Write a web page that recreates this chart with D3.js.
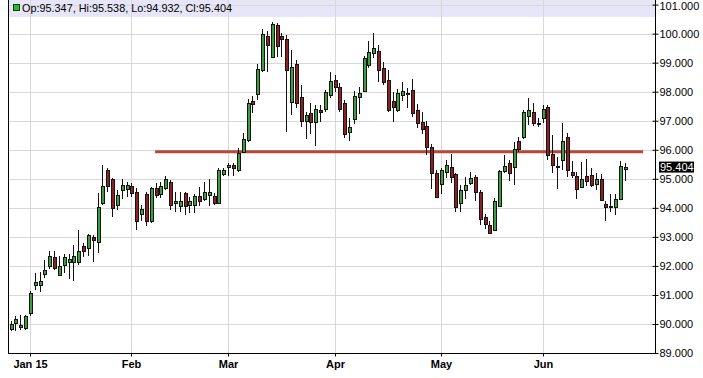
<!DOCTYPE html>
<html><head><meta charset="utf-8">
<script src="https://cdn.jsdelivr.net/npm/d3@7"></script>
<style>
html,body{margin:0;padding:0;background:#fff;}
svg{display:block;}
text{font-family:"Liberation Sans",Arial,sans-serif;}
</style></head><body>
<svg id="chart" width="703" height="378"></svg>
<script>
const dates = [
"2014-12-26","2014-12-29","2014-12-30","2014-12-31",
"2015-01-02","2015-01-05","2015-01-06","2015-01-07","2015-01-08","2015-01-09","2015-01-12","2015-01-13","2015-01-14","2015-01-15","2015-01-16","2015-01-19","2015-01-20","2015-01-21","2015-01-22","2015-01-23","2015-01-26","2015-01-27","2015-01-28","2015-01-29","2015-01-30",
"2015-02-02","2015-02-03","2015-02-04","2015-02-05","2015-02-06","2015-02-09","2015-02-10","2015-02-11","2015-02-12","2015-02-13","2015-02-16","2015-02-17","2015-02-18","2015-02-19","2015-02-20","2015-02-23","2015-02-24","2015-02-25","2015-02-26","2015-02-27",
"2015-03-02","2015-03-03","2015-03-04","2015-03-05","2015-03-06","2015-03-09","2015-03-10","2015-03-11","2015-03-12","2015-03-13","2015-03-16","2015-03-17","2015-03-18","2015-03-19","2015-03-20","2015-03-23","2015-03-24","2015-03-25","2015-03-26","2015-03-27","2015-03-30","2015-03-31",
"2015-04-01","2015-04-02","2015-04-03","2015-04-06","2015-04-07","2015-04-08","2015-04-09","2015-04-10","2015-04-13","2015-04-14","2015-04-15","2015-04-16","2015-04-17","2015-04-20","2015-04-21","2015-04-22","2015-04-23","2015-04-24","2015-04-27","2015-04-28","2015-04-29","2015-04-30",
"2015-05-01","2015-05-04","2015-05-05","2015-05-06","2015-05-07","2015-05-08","2015-05-11","2015-05-12","2015-05-13","2015-05-14","2015-05-15","2015-05-18","2015-05-19","2015-05-20","2015-05-21","2015-05-22","2015-05-25","2015-05-26","2015-05-27","2015-05-28","2015-05-29",
"2015-06-01","2015-06-02","2015-06-03","2015-06-04","2015-06-05","2015-06-08","2015-06-09","2015-06-10","2015-06-11","2015-06-12","2015-06-15","2015-06-16","2015-06-17","2015-06-18","2015-06-19","2015-06-22","2015-06-23","2015-06-24"];

const open = [89.83,90.04,89.90,89.86,
90.38,91.33,91.33,91.73,91.98,92.30,91.67,92.02,92.12,92.12,92.15,92.67,92.63,93.01,92.84,94.18,95.31,94.99,94.10,94.60,94.64,
94.76,94.56,93.78,94.47,93.55,94.68,94.47,94.68,94.90,94.16,94.08,94.50,94.10,94.10,94.41,94.30,94.45,94.41,94.18,95.17,
95.42,95.48,95.31,95.94,96.34,97.69,97.91,98.74,99.91,99.20,100.29,99.91,99.83,97.66,98.97,97.83,96.99,97.28,96.94,97.37,97.42,97.89,
98.40,98.17,97.60,96.62,97.06,97.83,98.02,98.92,99.32,99.40,98.80,98.40,97.68,97.37,97.89,97.95,98.06,97.37,96.94,96.82,96.11,95.19,
94.83,95.25,95.40,95.17,94.16,94.62,94.85,95.05,94.56,93.70,93.42,93.24,94.07,95.28,95.56,95.40,96.31,96.43,97.16,97.29,96.91,
97.08,97.48,95.86,95.45,95.65,96.45,95.25,95.10,94.71,95.10,95.13,94.83,94.99,94.14,94.02,94.04,94.30,95.347];

const high = [90.09,90.26,90.30,90.32,
91.12,91.75,91.78,92.21,92.52,92.50,92.33,92.42,92.42,92.73,93.24,92.79,93.11,93.07,94.50,95.48,95.36,95.02,94.62,94.99,94.90,
94.85,94.68,94.10,94.56,94.73,94.87,94.90,95.10,94.96,94.56,94.53,94.53,94.39,94.47,94.73,94.90,94.99,94.50,95.36,95.36,
95.56,95.56,96.05,96.57,97.74,97.85,98.94,100.17,100.09,100.41,100.35,100.03,99.97,99.43,99.09,98.23,97.31,97.60,97.54,97.54,98.06,98.67,
98.57,98.29,97.71,97.08,98.03,98.17,99.24,99.74,100.01,99.61,99.03,98.74,98.00,98.11,98.34,98.14,98.44,97.56,97.29,96.99,96.20,95.31,
95.36,95.65,95.86,95.21,94.79,95.05,95.25,95.13,94.62,93.79,93.53,94.33,95.31,95.82,95.65,96.28,96.45,97.37,97.77,97.62,97.08,
97.54,97.54,96.51,95.76,96.91,96.57,95.63,95.25,95.59,95.67,95.36,95.19,95.17,94.22,94.48,94.48,95.63,95.538];

const low = [89.75,89.75,89.80,89.80,
90.29,91.18,91.09,91.60,91.89,91.87,91.64,91.75,91.55,91.47,92.04,92.29,92.35,92.12,92.44,94.10,94.56,93.67,93.93,94.30,94.39,
94.39,93.22,93.55,93.38,93.49,94.33,94.35,94.62,93.93,93.87,93.87,93.76,93.81,93.81,94.07,94.22,94.07,94.10,94.14,95.08,
95.08,95.08,95.25,95.88,96.28,97.28,97.71,98.67,98.67,99.15,99.20,99.20,96.60,97.20,97.45,96.80,96.37,96.53,96.14,96.97,97.31,97.79,
97.98,97.29,96.42,96.30,96.88,97.22,97.98,98.80,99.17,98.34,98.23,97.29,96.97,97.31,97.68,97.45,97.14,96.74,96.53,95.82,94.64,94.33,
94.48,95.02,94.87,93.84,93.87,94.30,94.79,94.22,93.42,93.27,93.11,93.22,94.04,95.21,94.94,94.79,95.94,96.36,96.85,96.82,96.77,
96.91,95.65,95.19,94.64,95.31,95.05,95.02,94.30,94.68,94.76,94.71,94.62,94.22,93.53,93.87,93.76,94.27,94.932];

const close = [90.01,90.17,89.98,90.26,
91.07,91.44,91.49,91.87,92.33,91.93,91.98,92.30,92.23,92.35,92.53,92.50,93.05,92.88,94.04,94.76,94.76,94.00,94.45,94.79,94.79,
94.51,93.56,93.95,93.53,94.68,94.45,94.76,94.99,94.10,94.22,94.22,94.07,94.22,94.41,94.22,94.53,94.56,94.18,95.31,95.31,
95.48,95.36,95.88,96.36,97.60,97.58,98.77,99.99,99.60,100.33,99.58,99.80,98.74,98.86,97.60,96.99,97.19,96.97,97.42,97.29,97.98,98.37,
98.17,97.40,96.53,96.77,97.86,97.95,99.17,99.38,99.49,98.75,98.34,97.37,97.48,97.95,98.02,97.95,97.26,96.91,96.72,96.08,95.19,94.37,
95.31,95.48,95.06,94.04,94.62,94.79,95.02,94.56,93.61,93.45,93.15,94.22,95.28,95.45,95.21,96.02,96.02,97.31,97.37,96.91,96.92,
97.39,95.82,95.48,95.40,96.31,95.31,95.13,94.64,94.99,94.94,94.79,94.99,94.26,94.02,94.07,94.30,95.45,95.404];

const yTicks = [89,90,91,92,93,94,95,96,97,98,99,100,101];
const monthLabels = ["Jan 15","Feb","Mar","Apr","May","Jun"];
const resistanceLevel = 95.93;
const resistanceStart = 29.9;   // in trading-day index units
const resistanceEnd = 130.8;

const L = 8, R = 655, T = 0, B = 353;
const svg = d3.select("#chart");

const x = d3.scaleLinear().domain([-0.52, 133.25]).range([L, R]);
const y = d3.scaleLinear().domain([89, 101]).range([353, 4.6]);

// header band
svg.append("rect").attr("x", L).attr("y", 0).attr("width", R - L).attr("height", 17).attr("fill", "#e6e6f8");

// gridlines
const parse = d3.timeParse("%Y-%m-%d");
const dts = dates.map(parse);
const monthIdx = [];
dts.forEach((d, i) => { if (i > 0 && d.getMonth() !== dts[i-1].getMonth()) monthIdx.push(i); });

svg.append("g").selectAll("line").data(yTicks.filter(t => t > 89)).join("line")
  .attr("x1", L).attr("x2", R)
  .attr("y1", d => Math.round(y(d)) + 0.5).attr("y2", d => Math.round(y(d)) + 0.5)
  .attr("stroke", "#d8d8d8").attr("stroke-width", 1);
svg.append("g").selectAll("line").data(monthIdx).join("line")
  .attr("x1", d => Math.round(x(d)) + 0.5).attr("x2", d => Math.round(x(d)) + 0.5)
  .attr("y1", T).attr("y2", B)
  .attr("stroke", "#d8d8d8").attr("stroke-width", 1);

// header text
const last = dates.length - 1;
svg.append("rect").attr("x", 13.5).attr("y", 4.5).attr("width", 6).attr("height", 6)
  .attr("fill", "#22c022").attr("stroke", "#1a3a1a");
svg.append("text").attr("x", 22).attr("y", 12)
  .attr("font-size", 11).attr("fill", "#000")
  .attr("textLength", 210).attr("lengthAdjust", "spacingAndGlyphs")
  .text(`Op:${open[last].toFixed(3)}, Hi:${high[last].toFixed(3)}, Lo:${low[last].toFixed(3)}, Cl:${close[last].toFixed(3)}`);

// resistance line with shadow
const defs = svg.append("defs");
defs.append("filter").attr("id", "blur").attr("x", "-5%").attr("y", "-300%").attr("width", "110%").attr("height", "700%")
  .append("feGaussianBlur").attr("stdDeviation", 1.8);
svg.append("line")
  .attr("x1", x(resistanceStart) + 3).attr("x2", x(resistanceEnd) + 2)
  .attr("y1", y(resistanceLevel) + 5).attr("y2", y(resistanceLevel) + 5)
  .attr("stroke", "#8a8a8a").attr("stroke-width", 5).attr("filter", "url(#blur)").attr("opacity", 0.9);
svg.append("line")
  .attr("x1", x(resistanceStart)).attr("x2", x(resistanceEnd))
  .attr("y1", y(resistanceLevel)).attr("y2", y(resistanceLevel))
  .attr("stroke", "#b54838").attr("stroke-width", 3);

// candles
const idx = d3.range(dates.length);
const g = svg.append("g").attr("shape-rendering", "crispEdges");
g.selectAll("line.wick").data(idx).join("line").attr("class", "wick")
  .attr("x1", i => Math.round(x(i)) + 0.5).attr("x2", i => Math.round(x(i)) + 0.5)
  .attr("y1", i => Math.round(y(high[i]))).attr("y2", i => Math.round(y(low[i])))
  .attr("stroke", "#111").attr("stroke-width", 1);
g.selectAll("rect.body").data(idx).join("rect").attr("class", "body")
  .attr("x", i => Math.round(x(i)) - 0.5)
  .attr("width", 3)
  .attr("y", i => Math.round(y(Math.max(open[i], close[i]))) + 0.5)
  .attr("height", i => Math.max(1, Math.round(y(Math.min(open[i], close[i]))) - Math.round(y(Math.max(open[i], close[i])))))
  .attr("fill", i => close[i] >= open[i] ? "#3e9e3e" : "#8e1f22")
  .attr("stroke", "#141414").attr("stroke-width", 1);

// frame
svg.append("line").attr("x1", L + 0.5).attr("x2", L + 0.5).attr("y1", 0).attr("y2", B + 1).attr("stroke", "#000");
svg.append("line").attr("x1", R + 0.5).attr("x2", R + 0.5).attr("y1", 0).attr("y2", B + 1).attr("stroke", "#000");

// right axis
const yAxis = d3.axisRight(y).tickValues(yTicks).tickFormat(d3.format(".3f")).tickSizeInner(3).tickSizeOuter(0).tickPadding(1);
const ya = svg.append("g").attr("transform", `translate(${R + 0.5},0)`).call(yAxis);
ya.select(".domain").remove();
ya.selectAll(".tick line").attr("x1", -3).attr("stroke", "#000");
ya.selectAll(".tick text").attr("font-family", "'Liberation Sans', Arial, sans-serif").attr("font-size", 11).attr("fill", "#000")
  .attr("dy", d => d === 101 ? "0.42em" : "0.32em");

// last price marker
const lastY = y(close[last]);
svg.append("rect").attr("x", 659).attr("y", lastY - 5.5).attr("width", 35).attr("height", 11).attr("fill", "#000");
svg.append("text").attr("x", 660).attr("y", lastY).attr("dy", "0.35em")
  .attr("font-size", 11).attr("fill", "#fff").text(close[last].toFixed(3));

// bottom axis
const xAxis = d3.axisBottom(x).tickValues(monthIdx).tickFormat((d, i) => monthLabels[i]).tickSizeInner(3).tickSizeOuter(0).tickPadding(4);
const xa = svg.append("g").attr("transform", `translate(0,${B + 0.5})`).call(xAxis);
xa.select(".domain").remove();
xa.selectAll(".tick").attr("transform", d => `translate(${Math.round(x(d)) + 0.5},0)`);
xa.selectAll(".tick line").attr("stroke", "#000");
xa.selectAll(".tick text").attr("font-family", "'Liberation Sans', Arial, sans-serif").attr("font-size", 11).attr("font-weight", "bold").attr("fill", "#000");
svg.append("line").attr("x1", L).attr("x2", R + 1).attr("y1", B + 0.5).attr("y2", B + 0.5).attr("stroke", "#000");
</script>
</body></html>
